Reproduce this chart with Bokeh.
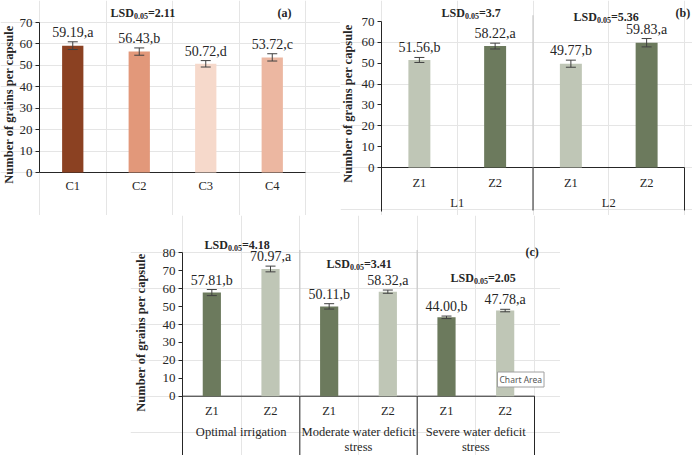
from math import pi

from bokeh.core.properties import value
from bokeh.embed import file_html
from bokeh.layouts import column, row
from bokeh.models import (ColumnDataSource, FixedTicker, Label, LinearAxis,
                          Range1d, Spacer, TeeHead, Whisker)
from bokeh.plotting import figure
from bokeh.resources import INLINE

SERIF = "Liberation Serif"
INK = "#262626"
DIVIDER = "#C8C8C8"

# ---- (a) grains per capsule by C treatment ----
a_cats = ["C1", "C2", "C3", "C4"]
a_vals = [59.19, 56.43, 50.72, 53.72]
a_letters = ["a", "b", "d", "c"]
a_err = [1.8, 1.7, 1.5, 1.7]
a_colors = ["#8B4122", "#E2987A", "#F6D9CB", "#ECB7A1"]
a_lsd = "2.11"

# ---- (b) Z within L ----
b_groups = ["L1", "L2"]
b_subs = ["Z1", "Z2"]
b_vals = [51.56, 58.22, 49.77, 59.83]
b_letters = ["b", "a", "b", "a"]
b_err = [1.2, 1.4, 1.7, 2.0]
b_colors = ["#BFC6B6", "#6C7A5D"]
b_lsd = ["3.7", "5.36"]

# ---- (c) Z within irrigation regime ----
c_groups = ["Optimal irrigation", "Moderate water deficit\nstress",
            "Severe water deficit\nstress"]
c_subs = ["Z1", "Z2"]
c_vals = [57.81, 70.97, 50.11, 58.32, 44.00, 47.78]
c_letters = ["b", "a", "b", "a", "b", "a"]
c_err = [1.7, 1.6, 1.5, 0.9, 0.7, 0.7]
c_colors = ["#6C7A5D", "#BFC6B6"]
c_lsd = ["4.18", "3.41", "2.05"]

Y_TITLE = "Number of grains per capsule"


def panel(w, h, origin_x, band_px, origin_y, unit_px):
    """Figure whose frame fills the canvas; category slot i spans [i, i+1]
    on x, with x=0 placed origin_x pixels from the left and y=0 placed
    origin_y pixels from the top."""
    xr = Range1d(-origin_x / band_px, (w - origin_x) / band_px)
    yr = Range1d(-(h - origin_y) / unit_px, origin_y / unit_px)
    p = figure(x_range=xr, y_range=yr, width=w, height=h,
               output_backend="svg", toolbar_location=None,
               x_axis_location=None, y_axis_location=None,
               min_border=0)
    p.outline_line_color = None
    p.background_fill_color = "white"
    p.border_fill_color = "white"
    return p


def value_axis(p, ymax, bottom):
    ax = LinearAxis(fixed_location=0)
    ax.ticker = FixedTicker(ticks=list(range(0, ymax + 1, 10)))
    ax.bounds = (bottom, ymax)
    ax.major_tick_out = 4
    ax.major_tick_in = 0
    ax.minor_tick_out = 0
    ax.minor_tick_in = 0
    ax.axis_line_color = INK
    ax.major_tick_line_color = INK
    ax.major_label_text_font = SERIF
    ax.major_label_text_font_size = "13px"
    ax.major_label_text_color = INK
    ax.major_label_standoff = 3
    p.add_layout(ax, "left")


def bars(p, xs, vals, errs, letters, colors, width):
    src = ColumnDataSource(dict(
        x=xs, top=vals,
        upper=[v + e for v, e in zip(vals, errs)],
        lower=[v - e for v, e in zip(vals, errs)],
        label=[f"{v:.2f},{l}" for v, l in zip(vals, letters)],
        color=colors,
    ))
    p.vbar(x="x", top="top", width=width, fill_color="color",
           line_color=None, source=src)
    w = Whisker(source=src, base="x", upper="upper", lower="lower",
                line_color="#404040", line_width=1,
                upper_head=TeeHead(size=10, line_color="#404040", line_width=1),
                lower_head=TeeHead(size=10, line_color="#404040", line_width=1))
    w.level = "annotation"
    p.add_layout(w)
    p.text(x="x", y="upper", text="label", source=src, text_align="center",
           text_baseline="bottom", y_offset=-2, text_font=value(SERIF),
           text_font_size="14px", text_color=INK)


def axis_text(p, xs, y, texts, baseline="middle"):
    p.text(x=xs, y=y, text=texts, text_align="center", text_baseline=baseline,
           text_line_height=1.08, text_font=value(SERIF),
           text_font_size="12.5px", text_color=INK)


def canvas_label(p, x, y, text, size="12px", style="bold", **kw):
    p.add_layout(Label(x=x, y=y, x_units="canvas", y_units="canvas",
                       text=text, text_font=SERIF, text_font_size=size,
                       text_font_style=style, text_color=INK, **kw))


def lsd_label(p, x, y, val):
    canvas_label(p, x, y, "LSD", text_baseline="alphabetic")
    canvas_label(p, x + 23.5, y + 3, "0.05", size="8px",
                 text_baseline="alphabetic")
    canvas_label(p, x + 37.5, y, "=" + val, text_baseline="alphabetic")


def y_title(p, x, y):
    canvas_label(p, x, y, Y_TITLE, size="12.5px", angle=pi / 2,
                 text_align="center", text_baseline="middle")


def group_boxes(p, n_groups, n_subs, top, bottom):
    edges = [(g + 1) * n_subs for g in range(n_groups)]
    n = n_groups * n_subs
    # axis line, light dividers inside the plot, boxes under the axis
    p.segment(x0=[0], x1=[n], y0=0, y1=0, line_color=INK, line_width=1)
    p.segment(x0=edges[:-1], x1=edges[:-1], y0=0, y1=top,
              line_color=DIVIDER, line_width=1.2)
    p.segment(x0=edges, x1=edges, y0=0, y1=bottom,
              line_color=INK, line_width=1)


H_TOP = 215

# ================= (a) =================
pa = panel(340, H_TOP, 39, 66.5, 172, 150 / 70)
value_axis(pa, 70, 0)
xa = [i + 0.5 for i in range(len(a_cats))]
pa.segment(x0=[0], x1=[len(a_cats)], y0=0, y1=0, line_color=INK, line_width=1)
bars(pa, xa, a_vals, a_err, a_letters, a_colors, 0.32)
axis_text(pa, xa, -6.1, a_cats)
y_title(pa, 8, 104)
lsd_label(pa, 110, 12, a_lsd)
canvas_label(pa, 277, 12, "(a)", text_baseline="alphabetic")

# ================= (b) =================
pb = panel(352, H_TOP, 41, 75.75, 167, 146 / 70)
value_axis(pb, 70, -21)
xb = [gi * len(b_subs) + si + 0.5
      for gi in range(len(b_groups)) for si in range(len(b_subs))]
xb_groups = [gi * len(b_subs) + len(b_subs) / 2 for gi in range(len(b_groups))]
group_boxes(pb, len(b_groups), len(b_subs), 73, -20.6)
bars(pb, xb, b_vals, b_err, b_letters, b_colors * len(b_groups), 0.29)
axis_text(pb, xb, -7.2, b_subs * len(b_groups))
axis_text(pb, xb_groups, -16.8, b_groups)
y_title(pb, 7, 103)
lsd_label(pb, 101, 12, b_lsd[0])
lsd_label(pb, 233, 16, b_lsd[1])
canvas_label(pb, 335, 12, "(b)", text_baseline="alphabetic")

# ================= (c) =================
HC = 240
pc = panel(430, HC, 52, 352 / 6, 180.7, 143.4 / 80)
value_axis(pc, 80, -40)
xc = [gi * len(c_subs) + si + 0.5
      for gi in range(len(c_groups)) for si in range(len(c_subs))]
xc_groups = [gi * len(c_subs) + len(c_subs) / 2 for gi in range(len(c_groups))]
group_boxes(pc, len(c_groups), len(c_subs), 81.5, -40)
bars(pc, xc, c_vals, c_err, c_letters, c_colors * len(c_groups), 0.31)
axis_text(pc, xc, -8.5, c_subs * len(c_groups))
axis_text(pc, xc_groups, -16.1, c_groups, baseline="top")
y_title(pc, 10, 117)
lsd_label(pc, 74, 29, c_lsd[0])
lsd_label(pc, 196, 48, c_lsd[1])
lsd_label(pc, 320, 62, c_lsd[2])
canvas_label(pc, 395, 36, "(c)", text_baseline="alphabetic")
pc.add_layout(Label(x=367, y=164, x_units="canvas", y_units="canvas",
                    text="Chart Area", text_font="Noto Sans",
                    text_font_size="8.5px", text_color="#555555",
                    text_baseline="middle", background_fill_color="white",
                    border_line_color="#A0A0A0", padding=2))

layout = column(row(pa, pb, spacing=0),
                row(Spacer(width=130, height=HC), pc, spacing=0),
                spacing=0)

with open("out.html", "w") as f:
    f.write(file_html(layout, INLINE))
